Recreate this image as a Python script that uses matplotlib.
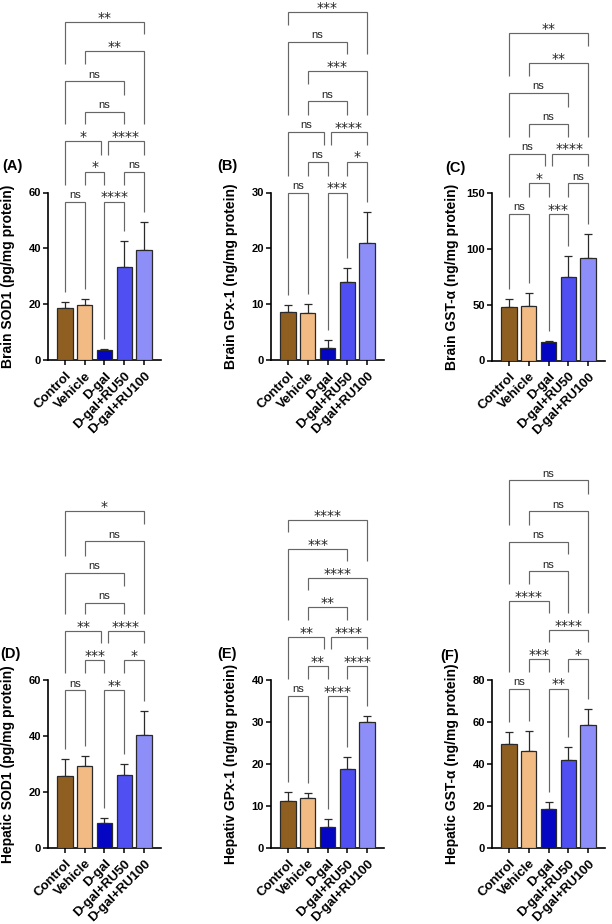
import matplotlib.pyplot as plt
import numpy as np

groups = ['Control', 'Vehicle', 'D-gal', 'D-gal+RU50', 'D-gal+RU100']
bar_colors = ['#8f5f22', '#f3bb84', '#0505c4', '#4f4ff2', '#8e8ef8']

# mean and SD
brain_sod1 = [18.8, 19.8, 3.5, 33.2, 39.3]
brain_sod1_sd = [1.8, 2.2, 0.4, 9.3, 10.2]
brain_gpx1 = [8.6, 8.5, 2.2, 14.0, 21.0]
brain_gpx1_sd = [1.3, 1.6, 1.4, 2.5, 5.5]
brain_gst = [48.0, 48.7, 16.3, 75.0, 92.2]
brain_gst_sd = [7.3, 12.1, 1.5, 19.0, 21.4]
hep_sod1 = [25.7, 29.4, 8.8, 26.1, 40.5]
hep_sod1_sd = [6.1, 3.3, 2.0, 4.0, 8.5]
hep_gpx1 = [11.2, 11.8, 5.0, 18.7, 30.1]
hep_gpx1_sd = [2.2, 1.3, 1.8, 2.9, 1.4]
hep_gst = [49.3, 46.3, 18.3, 41.7, 58.8]
hep_gst_sd = [5.9, 9.3, 3.4, 6.5, 7.4]

# comparisons (group a, group b, label), listed bottom to top
brain_sod1_sig = [(0, 1, 'ns'), (2, 3, '****'), (1, 2, '*'), (3, 4, 'ns'), (0, 2, '*'),
                  (2, 4, '****'), (1, 3, 'ns'), (0, 3, 'ns'), (1, 4, '**'), (0, 4, '**')]
brain_gpx1_sig = [(0, 1, 'ns'), (2, 3, '***'), (1, 2, 'ns'), (3, 4, '*'), (0, 2, 'ns'),
                  (2, 4, '****'), (1, 3, 'ns'), (1, 4, '***'), (0, 3, 'ns'), (0, 4, '***')]
brain_gst_sig = [(0, 1, 'ns'), (2, 3, '***'), (1, 2, '*'), (3, 4, 'ns'), (0, 2, 'ns'),
                 (2, 4, '****'), (1, 3, 'ns'), (0, 3, 'ns'), (1, 4, '**'), (0, 4, '**')]
hep_sod1_sig = [(0, 1, 'ns'), (2, 3, '**'), (1, 2, '***'), (3, 4, '*'), (0, 2, '**'),
                (2, 4, '****'), (1, 3, 'ns'), (0, 3, 'ns'), (1, 4, 'ns'), (0, 4, '*')]
hep_gpx1_sig = [(0, 1, 'ns'), (2, 3, '****'), (1, 2, '**'), (3, 4, '****'), (0, 2, '**'),
                (2, 4, '****'), (1, 3, '**'), (1, 4, '****'), (0, 3, '***'), (0, 4, '****')]
hep_gst_sig = [(0, 1, 'ns'), (2, 3, '**'), (1, 2, '***'), (3, 4, '*'), (2, 4, '****'),
               (0, 2, '****'), (1, 3, 'ns'), (0, 3, 'ns'), (1, 4, 'ns'), (0, 4, 'ns')]

# layout: row of each bracket and row heights (fraction of y max)
rows_std = [0, 0, 1, 1, 2, 2, 3, 4, 5, 6]
rows_f = [0, 0, 1, 1, 2, 3, 4, 5, 6, 7]

AX_W, AX_H = 113, 167.5   # px
FIG_W, FIG_H = 612, 924

panels = [
    # letter, ylabel, mean, sd, ymax, step, sig, rows, heights, ax left/bottom px, letter pos px
    ('(A)', 'Brain SOD1 (pg/mg protein)', brain_sod1, brain_sod1_sd, 60, 20, brain_sod1_sig,
     rows_std, [0.946, 1.125, 1.305, 1.48, 1.663, 1.843, 2.018], (48, 360), (2, 170)),
    ('(B)', 'Brain GPx-1 (ng/mg protein)', brain_gpx1, brain_gpx1_sd, 30, 10, brain_gpx1_sig,
     rows_std, [0.998, 1.183, 1.361, 1.544, 1.723, 1.898, 2.077], (271, 360), (217, 170)),
    ('(C)', 'Brain GST-α (ng/mg protein)', brain_gst, brain_gst_sd, 150, 50, brain_gst_sig,
     rows_std, [0.875, 1.057, 1.235, 1.413, 1.597, 1.776, 1.954], (492, 360.5), (445, 172)),
    ('(D)', 'Hepatic SOD1 (pg/mg protein)', hep_sod1, hep_sod1_sd, 60, 20, hep_sod1_sig,
     rows_std, [0.94, 1.119, 1.292, 1.461, 1.642, 1.829, 2.008], (48, 847.7), (0, 658)),
    ('(E)', 'Hepativ GPx-1 (ng/mg protein)', hep_gpx1, hep_gpx1_sd, 40, 10, hep_gpx1_sig,
     rows_std, [0.906, 1.083, 1.258, 1.437, 1.61, 1.781, 1.954], (271, 847.7), (217, 658)),
    ('(F)', 'Hepatic GST-α (ng/mg protein)', hep_gst, hep_gst_sd, 80, 20, hep_gst_sig,
     rows_f, [0.95, 1.125, 1.298, 1.471, 1.65, 1.825, 2.008, 2.193], (492, 847.7), (440, 660)),
]

plt.rcParams['font.family'] = ['Liberation Sans', 'DejaVu Sans']


def draw_brackets(ax, mean, sd, ymax, sig, rows, heights):
    unit = ymax / AX_H            # data units per pixel
    nudge = 3.2 / (AX_W / 5.72)   # px -> x data units
    top = [m + s for m, s in zip(mean, sd)]
    on_bracket = [False] * len(top)
    for r in sorted(set(rows)):
        items = [k for k in range(len(sig)) if rows[k] == r]
        y = heights[r] * ymax
        for k in items:
            a, b, lab = sig[k]
            xa, xb = float(a), float(b)
            for k2 in items:
                if k2 == k:
                    continue
                a2, b2, _ = sig[k2]
                if b == a2:
                    xb -= nudge
                if a == b2:
                    xa += nudge
            ya = top[a] + (17 if on_bracket[a] else 10) * unit
            yb = top[b] + (17 if on_bracket[b] else 10) * unit
            ax.plot([xa, xa, xb, xb], [ya, y, y, yb], color='#666666', lw=0.85,
                    clip_on=False, solid_capstyle='butt', solid_joinstyle='miter')
            if lab == 'ns':
                ax.annotate(lab, xy=((xa + xb) / 2, y), xytext=(0, 2.6), textcoords='offset points',
                            ha='center', va='baseline', fontsize=8, color='#222222',
                            annotation_clip=False)
            else:
                ax.annotate(lab, xy=((xa + xb) / 2, y), xytext=(0, 0.3), textcoords='offset points',
                            ha='center', va='baseline', fontsize=10, color='#222222',
                            family='DejaVu Sans', annotation_clip=False)
        for k in items:
            a, b, _ = sig[k]
            for g in range(a, b + 1):
                top[g] = y
                on_bracket[g] = True


fig = plt.figure(figsize=(FIG_W / 100, FIG_H / 100), dpi=100)

for letter, ylab, mean, sd, ymax, step, sig, rows, heights, (lx, by), (tx, ty) in panels:
    ax = fig.add_axes([lx / FIG_W, 1 - by / FIG_H, AX_W / FIG_W, AX_H / FIG_H])
    x = np.arange(len(groups))
    ax.errorbar(x, mean, yerr=[np.zeros(len(sd)), sd], fmt='none', ecolor='#2a2a2a',
                elinewidth=0.9, capsize=3, capthick=0.9, zorder=2)
    ax.bar(x, mean, width=0.78, color=bar_colors, edgecolor='#2a2a2a', linewidth=0.9, zorder=3)

    ax.set_xlim(-0.86, 4.86)
    ax.set_ylim(0, ymax)
    ax.set_yticks(np.arange(0, ymax + 1, step))
    ax.set_xticks(x)
    ax.set_xticklabels(groups, rotation=45, ha='right', va='top', rotation_mode='anchor',
                       fontsize=9.5, fontweight='bold')
    for t in ax.get_yticklabels():
        t.set_fontsize(8)
        t.set_fontweight('bold')
    ax.tick_params(axis='both', direction='out', length=3.6, width=1.1, pad=1.5)
    ax.tick_params(axis='x', pad=3.5)
    ax.spines[['top', 'right']].set_visible(False)
    ax.spines[['left', 'bottom']].set_linewidth(1.2)

    ax.set_ylabel(ylab, fontsize=10, fontweight='bold')
    ax.yaxis.set_label_coords(-0.29, 0.5)

    draw_brackets(ax, mean, sd, ymax, sig, rows, heights)

    fig.text(tx / FIG_W, 1 - ty / FIG_H, letter, fontsize=10.5, fontweight='bold', va='baseline')

fig.savefig('out.png', dpi=100)
